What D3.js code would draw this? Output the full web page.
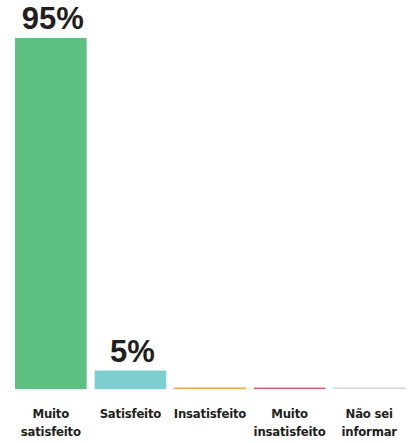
<!DOCTYPE html>
<html>
<head>
<meta charset="utf-8">
<script src="https://cdn.jsdelivr.net/npm/d3@7"></script>
<style>
  html, body { margin: 0; padding: 0; background: #ffffff; }
  svg { display: block; }
</style>
</head>
<body>
<div id="chart"></div>
<script>
// Satisfaction survey: share of responses per answer
const categories = ["Muito satisfeito", "Satisfeito", "Insatisfeito", "Muito insatisfeito", "Não sei informar"];
const labelLines = [["Muito", "satisfeito"], ["Satisfeito"], ["Insatisfeito"], ["Muito", "insatisfeito"], ["Não sei", "informar"]];
const values = [95, 5, 0, 0, 0];
const colors = ["#5ec181", "#7dcfd2", "#f0a843", "#e0646b", "#d4d4d4"];

const width = 412, height = 443;
const baseY = 389;

const svg = d3.select("#chart").append("svg")
  .attr("width", width)
  .attr("height", height);

const x = d3.scaleBand()
  .domain(categories)
  .range([11, 409])
  .paddingInner(0.1)
  .paddingOuter(0.05);

const y = d3.scaleLinear()
  .domain([0, 100])
  .range([baseY, 19.5]);

const minH = 1.5; // empty answers still show a thin coloured rule

const data = categories.map((c, i) => ({ c, v: values[i], color: colors[i], lines: labelLines[i] }));

svg.append("g").selectAll("rect")
  .data(data)
  .join("rect")
  .attr("x", d => x(d.c))
  .attr("width", x.bandwidth())
  .attr("y", d => Math.min(y(d.v), baseY - minH))
  .attr("height", d => Math.max(baseY - y(d.v), minH))
  .attr("fill", d => d.color);

// value labels above non-empty bars
svg.append("g").selectAll("text")
  .data(data.filter(d => d.v > 0))
  .join("text")
  .attr("x", d => x(d.c) + x.bandwidth() / 2 + 2)
  .attr("y", d => y(d.v) - 8.5)
  .attr("text-anchor", "middle")
  .attr("font-family", "'Liberation Sans', Arial, sans-serif")
  .attr("font-weight", 700)
  .attr("font-size", 31)
  .attr("fill", "#231f20")
  .text(d => d.v + "%");

// category labels under the baseline
const labels = svg.append("g").selectAll("text")
  .data(data)
  .join("text")
  .attr("x", d => x(d.c) + x.bandwidth() / 2)
  .attr("y", 418)
  .attr("text-anchor", "middle")
  .attr("font-family", "'Liberation Sans Narrow', 'DejaVu Sans Condensed', sans-serif")
  .attr("font-weight", 700)
  .attr("font-size", 13)
  .attr("letter-spacing", -0.2)
  .attr("fill", "#231f20");

labels.selectAll("tspan")
  .data(d => d.lines)
  .join("tspan")
  .attr("x", function() { return d3.select(this.parentNode).attr("x"); })
  .attr("dy", (d, i) => i === 0 ? 0 : 18)
  .text(d => d);
</script>
</body>
</html>
